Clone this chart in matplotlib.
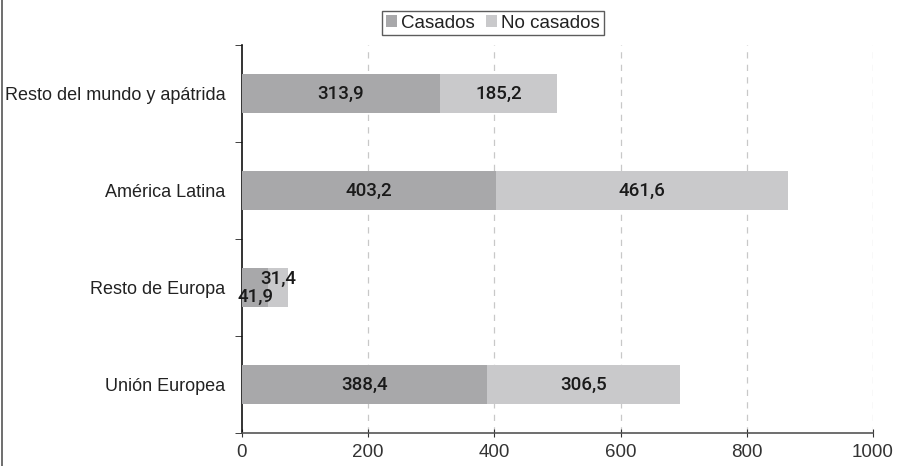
import matplotlib
matplotlib.use("Agg")
import matplotlib.pyplot as plt
from matplotlib.lines import Line2D

categories = ["Unión Europea", "Resto de Europa", "América Latina", "Resto del mundo y apátrida"]
casados = [388.4, 41.9, 403.2, 313.9]
no_casados = [306.5, 31.4, 461.6, 185.2]
series_names = ["Casados", "No casados"]
xticks = [0, 200, 400, 600, 800, 1000]

def fmt(v):
    return f"{v:.1f}".replace(".", ",")

plt.rcParams['font.family'] = ['Liberation Sans', 'DejaVu Sans']

fig = plt.figure(figsize=(9.03, 4.66), dpi=100)
ax = fig.add_axes([242/903, 1-433/466, (873-242)/903, (433-45)/466])

c_dark = "#a8a8aa"
c_light = "#c9c9cb"
y = list(range(len(categories)))
h = 0.4
b1 = ax.barh(y, casados, height=h, color=c_dark, label=series_names[0], zorder=3)
b2 = ax.barh(y, no_casados, left=casados, height=h, color=c_light, label=series_names[1], zorder=3)

lab_kw = dict(ha="center", va="center", fontsize=13.5, color="#1a1a1a", zorder=4,
              family=["Roboto", "Liberation Sans"], fontweight="medium")
for i in y:
    a, b = casados[i], no_casados[i]
    if a > 100:
        ax.text(a/2, i, fmt(a), **lab_kw)
        ax.text(a + b/2, i, fmt(b), **lab_kw)
    else:
        ax.text(a/2, i - 0.1, fmt(a), **lab_kw)
        ax.text(a + b/2, i + 0.09, fmt(b), **lab_kw)

ax.set_xlim(0, 1000)
ax.set_ylim(-0.5, 3.5)
ax.set_xticks(xticks)
ax.set_xticklabels([str(t) for t in xticks], fontsize=13.5, color="#333333")
ax.set_yticks(y)
ax.set_yticklabels(categories, fontsize=13, color="#222222")
ax.tick_params(axis="y", which="major", length=0, pad=12)
ax.set_yticks([-0.5, 0.5, 1.5, 2.5, 3.5], minor=True)
ax.tick_params(axis="y", which="minor", length=5, color="#222222", direction="out")
ax.tick_params(axis="x", length=6, direction="inout", color="#333333", pad=5)

for t in xticks[1:]:
    ax.axvline(t, color="#c8c8c8", linestyle=(0, (5, 5)), linewidth=0.9, zorder=1)

for s in ["top", "right"]:
    ax.spines[s].set_visible(False)
ax.spines["left"].set_color("#111111")
ax.spines["left"].set_linewidth(1.2)
ax.spines["bottom"].set_color("#555555")
ax.spines["bottom"].set_linewidth(1.2)

leg = fig.legend(handles=[b1, b2], labels=series_names, loc="center",
                 bbox_to_anchor=(493/903, 1-23/466), ncol=2, frameon=True,
                 fancybox=False, edgecolor="#333333", fontsize=13.5,
                 handlelength=0.6, handleheight=0.6, handletextpad=0.2,
                 columnspacing=0.6, borderpad=0.2, borderaxespad=0)
leg.get_frame().set_linewidth(1.0)
for t in leg.get_texts():
    t.set_color("#222222")

fig.add_artist(Line2D([2/903, 2/903], [0, 1], transform=fig.transFigure, color="#555555", linewidth=1.2))

fig.savefig("out.png", dpi=100)
